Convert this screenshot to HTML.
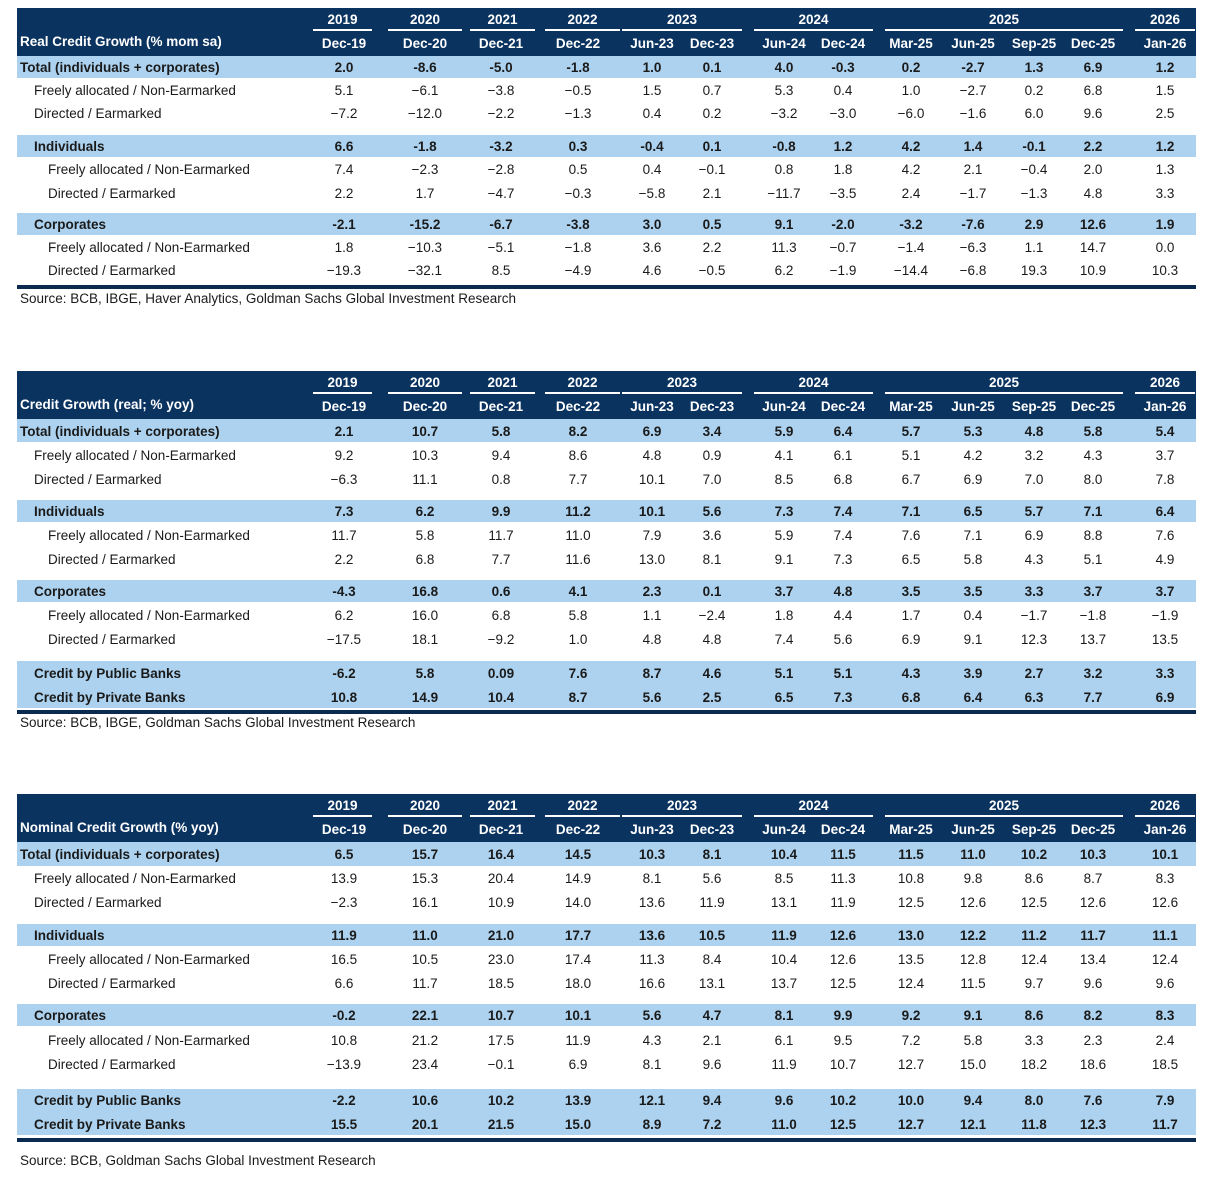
<!DOCTYPE html>
<html><head><meta charset="utf-8">
<style>
html,body{margin:0;padding:0;background:#fff;}
body{width:1214px;height:1179px;position:relative;overflow:hidden;font-family:"Liberation Sans",sans-serif;font-size:13.5px;color:#1a1a1a;}
.abs{position:absolute;}
.hdr{background:#0b3360;}
.band{background:#acd2ef;}
.t{position:absolute;white-space:nowrap;line-height:16px;}
.c{text-align:center;width:70px;}
.w{color:#fff;font-weight:bold;}
.b{font-weight:bold;}
.ul{position:absolute;height:2px;background:#fff;}
.rule{position:absolute;left:17px;width:1179px;height:4px;background:#0a2a4f;}
</style></head>
<body>
<script>
const colLabels = ["Dec-19","Dec-20","Dec-21","Dec-22","Jun-23","Dec-23","Jun-24","Dec-24","Mar-25","Jun-25","Sep-25","Dec-25","Jan-26"];
const yearLabels = ["2019","2020","2021","2022","2023","2024","2025","2026"];

const t1Title = "Real Credit Growth (% mom sa)";
const t1Labels = ["Total (individuals + corporates)","Freely allocated / Non-Earmarked","Directed / Earmarked","Individuals","Freely allocated / Non-Earmarked","Directed / Earmarked","Corporates","Freely allocated / Non-Earmarked","Directed / Earmarked"];
const t1Values = [
["2.0","-8.6","-5.0","-1.8","1.0","0.1","4.0","-0.3","0.2","-2.7","1.3","6.9","1.2"],
["5.1","-6.1","-3.8","-0.5","1.5","0.7","5.3","0.4","1.0","-2.7","0.2","6.8","1.5"],
["-7.2","-12.0","-2.2","-1.3","0.4","0.2","-3.2","-3.0","-6.0","-1.6","6.0","9.6","2.5"],
["6.6","-1.8","-3.2","0.3","-0.4","0.1","-0.8","1.2","4.2","1.4","-0.1","2.2","1.2"],
["7.4","-2.3","-2.8","0.5","0.4","-0.1","0.8","1.8","4.2","2.1","-0.4","2.0","1.3"],
["2.2","1.7","-4.7","-0.3","-5.8","2.1","-11.7","-3.5","2.4","-1.7","-1.3","4.8","3.3"],
["-2.1","-15.2","-6.7","-3.8","3.0","0.5","9.1","-2.0","-3.2","-7.6","2.9","12.6","1.9"],
["1.8","-10.3","-5.1","-1.8","3.6","2.2","11.3","-0.7","-1.4","-6.3","1.1","14.7","0.0"],
["-19.3","-32.1","8.5","-4.9","4.6","-0.5","6.2","-1.9","-14.4","-6.8","19.3","10.9","10.3"]];
const t1Source = "Source: BCB, IBGE, Haver Analytics, Goldman Sachs Global Investment Research";

const t2Title = "Credit Growth (real; % yoy)";
const t3Title = "Nominal Credit Growth (% yoy)";
const t23Labels = ["Total (individuals + corporates)","Freely allocated / Non-Earmarked","Directed / Earmarked","Individuals","Freely allocated / Non-Earmarked","Directed / Earmarked","Corporates","Freely allocated / Non-Earmarked","Directed / Earmarked","Credit by Public Banks","Credit by Private Banks"];
const t2Values = [
["2.1","10.7","5.8","8.2","6.9","3.4","5.9","6.4","5.7","5.3","4.8","5.8","5.4"],
["9.2","10.3","9.4","8.6","4.8","0.9","4.1","6.1","5.1","4.2","3.2","4.3","3.7"],
["-6.3","11.1","0.8","7.7","10.1","7.0","8.5","6.8","6.7","6.9","7.0","8.0","7.8"],
["7.3","6.2","9.9","11.2","10.1","5.6","7.3","7.4","7.1","6.5","5.7","7.1","6.4"],
["11.7","5.8","11.7","11.0","7.9","3.6","5.9","7.4","7.6","7.1","6.9","8.8","7.6"],
["2.2","6.8","7.7","11.6","13.0","8.1","9.1","7.3","6.5","5.8","4.3","5.1","4.9"],
["-4.3","16.8","0.6","4.1","2.3","0.1","3.7","4.8","3.5","3.5","3.3","3.7","3.7"],
["6.2","16.0","6.8","5.8","1.1","-2.4","1.8","4.4","1.7","0.4","-1.7","-1.8","-1.9"],
["-17.5","18.1","-9.2","1.0","4.8","4.8","7.4","5.6","6.9","9.1","12.3","13.7","13.5"],
["-6.2","5.8","0.09","7.6","8.7","4.6","5.1","5.1","4.3","3.9","2.7","3.2","3.3"],
["10.8","14.9","10.4","8.7","5.6","2.5","6.5","7.3","6.8","6.4","6.3","7.7","6.9"]];
const t2Source = "Source: BCB, IBGE, Goldman Sachs Global Investment Research";
const t3Values = [
["6.5","15.7","16.4","14.5","10.3","8.1","10.4","11.5","11.5","11.0","10.2","10.3","10.1"],
["13.9","15.3","20.4","14.9","8.1","5.6","8.5","11.3","10.8","9.8","8.6","8.7","8.3"],
["-2.3","16.1","10.9","14.0","13.6","11.9","13.1","11.9","12.5","12.6","12.5","12.6","12.6"],
["11.9","11.0","21.0","17.7","13.6","10.5","11.9","12.6","13.0","12.2","11.2","11.7","11.1"],
["16.5","10.5","23.0","17.4","11.3","8.4","10.4","12.6","13.5","12.8","12.4","13.4","12.4"],
["6.6","11.7","18.5","18.0","16.6","13.1","13.7","12.5","12.4","11.5","9.7","9.6","9.6"],
["-0.2","22.1","10.7","10.1","5.6","4.7","8.1","9.9","9.2","9.1","8.6","8.2","8.3"],
["10.8","21.2","17.5","11.9","4.3","2.1","6.1","9.5","7.2","5.8","3.3","2.3","2.4"],
["-13.9","23.4","-0.1","6.9","8.1","9.6","11.9","10.7","12.7","15.0","18.2","18.6","18.5"],
["-2.2","10.6","10.2","13.9","12.1","9.4","9.6","10.2","10.0","9.4","8.0","7.6","7.9"],
["15.5","20.1","21.5","15.0","8.9","7.2","11.0","12.5","12.7","12.1","11.8","12.3","11.7"]];
const t3Source = "Source: BCB, Goldman Sachs Global Investment Research";

const colX = [344,425,501,578,652,712,784,843,911,973,1034,1093,1165];
const yearSpan = [[313,372],[388,462],[470,535],[545,620],[622,742],[754,873],[885,1123],[1135,1195]];
const kinds1 = [0,1,1,2,3,3,2,3,3];
const kinds23 = [0,1,1,2,3,3,2,3,3,4,4];

function el(cls, x, y, txt){
  const d=document.createElement('div');
  d.className=cls; d.style.left=x+'px'; d.style.top=y+'px';
  if(txt!==undefined) d.textContent=txt;
  document.body.appendChild(d); return d;
}
function box(cls,x,y,w,h){const d=el(cls,x,y);d.style.width=w+'px';d.style.height=h+'px';return d;}

function table(id,title,labels,kinds,values,source,top,rowYs,bandRanges,ruleY,srcY){
  const h=box('abs hdr',17,top,1179,48);
  
  
  yearLabels.forEach((yl,i)=>{
    const s=yearSpan[i];
    const t=el('t c w',(s[0]+s[1])/2-35,top+4,yl);
    
    
    const u=box('ul',s[0],top+21,s[1]-s[0],2);
    
    
  });
  colLabels.forEach((c,i)=>{
    const t=el('t c w',colX[i]-35,top+28,c);
    
    
  });
  const tt=el('t w',20,top+26,title);
  
  
  bandRanges.forEach(r=>{
    const b=box('abs band',17,r[0],1179,r[1]-r[0]);
    
    
  });
  labels.forEach((lab,r)=>{
    const k=kinds[r], y=rowYs[r]-7;
    const bold=(k===0||k===2||k===4);
    const lx = k===0?20:(k===3?48:34);
    const l=el('t'+(bold?' b':''),lx,y,lab);
    
    
    values[r].forEach((v,i)=>{
      const txt = bold ? v : v.replace('-','\u2212');
      const c=el('t c'+(bold?' b':''),colX[i]-35,y,txt);
      
      
    });
  });
  const ru=box('rule',17,ruleY,1179,4);
  
  
  const s=el('t',20,srcY-7,source);
  
  
}

table('real-mom',t1Title,t1Labels,kinds1,t1Values,t1Source,8,
  [67,90,113,146,169,193,224,247,270],
  [[56,78],[135,157],[213,235]],285,298);
table('real-yoy',t2Title,t23Labels,kinds23,t2Values,t2Source,371,
  [431,455,479,511,535,559,591,615,639,673,697],
  [[419,442],[500,522],[580,602],[661,708]],710,722);
table('nominal-yoy',t3Title,t23Labels,kinds23,t3Values,t3Source,794,
  [854,878,902,935,959,983,1015,1040,1064,1100,1124],
  [[842,866],[924,946],[1004,1026],[1089,1135]],1138,1160);
</script>
</body></html>
